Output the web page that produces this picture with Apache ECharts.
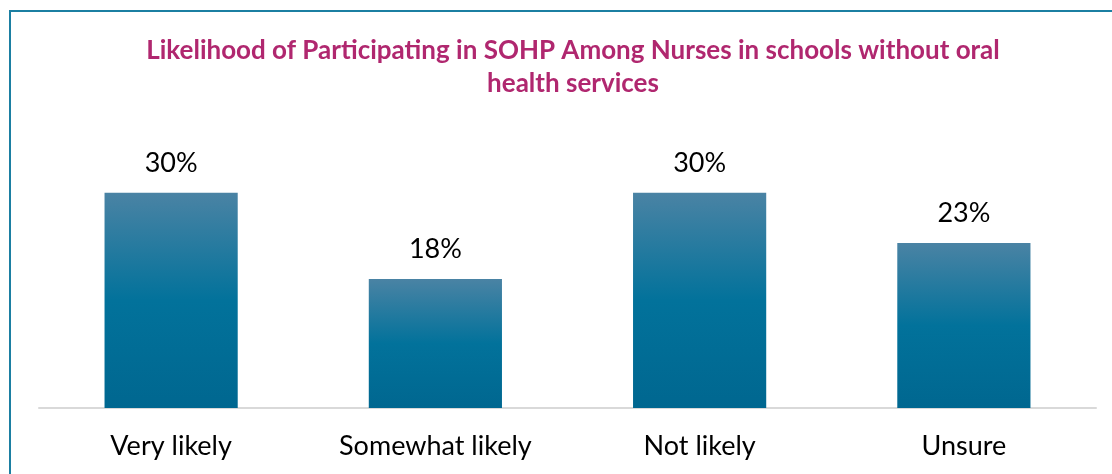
<!DOCTYPE html>
<html>
<head>
<meta charset="utf-8">
<script src="https://cdn.jsdelivr.net/npm/echarts@6/dist/echarts.min.js"></script>
<style>
  html, body { margin: 0; padding: 0; background: #ffffff; }
  #chart { width: 1112px; height: 474px; }
</style>
</head>
<body>
<div id="chart"></div>
<script>
// Survey responses: likelihood of participating in SOHP
const categories = ['Very likely', 'Somewhat likely', 'Not likely', 'Unsure'];
const percentages = [30, 18, 30, 23];

const titleText = 'Likelihood of Participating in SOHP Among Nurses in schools without oral\nhealth services';

const chart = echarts.init(document.getElementById('chart'));

const barGradient = new echarts.graphic.LinearGradient(0, 0, 0, 1, [
  { offset: 0, color: '#4a83a4' },
  { offset: 0.5, color: '#02729b' },
  { offset: 1, color: '#006790' }
]);

chart.setOption({
  backgroundColor: '#ffffff',
  animation: false,
  title: {
    text: titleText,
    left: 568,
    top: 29,
    textAlign: 'center',
    textStyle: {
      fontFamily: 'Lato',
      fontWeight: 'bold',
      fontSize: 26,
      lineHeight: 33,
      color: '#b0276f'
    }
  },
  graphic: [
    {
      type: 'rect',
      shape: { x: 10, y: 11, width: 1200, height: 600 },
      style: { fill: 'none', stroke: '#1b7fa2', lineWidth: 2 },
      silent: true
    }
  ],
  grid: { left: 39, right: 16, top: 157, bottom: 66 },
  xAxis: {
    type: 'category',
    data: categories,
    axisLine: { lineStyle: { color: '#d9d9d9', width: 2 } },
    axisTick: { show: false },
    axisLabel: {
      fontFamily: 'Lato',
      fontSize: 27,
      color: '#000000',
      margin: 25
    }
  },
  yAxis: {
    type: 'value',
    min: 0,
    max: 35,
    show: false,
    splitLine: { show: false }
  },
  series: [
    {
      type: 'bar',
      data: percentages,
      barWidth: '50.4%',
      itemStyle: { color: barGradient },
      label: {
        show: true,
        position: 'top',
        distance: 16,
        formatter: '{c}%',
        fontFamily: 'Lato',
        fontSize: 27,
        color: '#000000'
      }
    }
  ]
});
</script>
</body>
</html>
